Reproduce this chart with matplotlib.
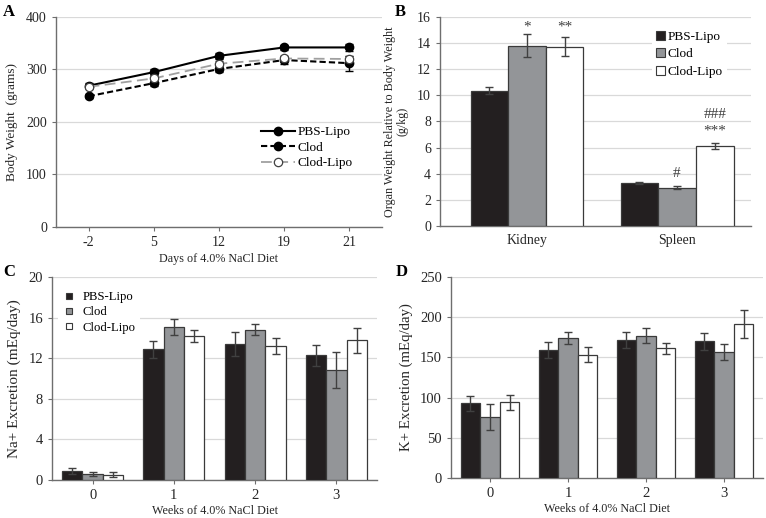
import matplotlib
matplotlib.use("Agg")
import matplotlib.pyplot as plt
import numpy as np
from matplotlib.lines import Line2D
from matplotlib.patches import Patch

plt.rcParams['font.family'] = ['Liberation Serif', 'DejaVu Serif']
plt.rcParams['font.size'] = 8.5

# ---------- data ----------
groups = ['PBS-Lipo', 'Clod', 'Clod-Lipo']

days = ['-2', '5', '12', '19', '21']
bw_pbs = [269, 295, 326, 342, 342]
bw_pbs_err = [5, 5, 6, 5, 6]
bw_clod = [249, 274, 301, 318, 312]
bw_clod_err = [4, 5, 5, 7, 14]
bw_cl = [267, 283, 311, 321, 320]
bw_cl_err = [4, 4, 5, 5, 6]

organs = ['Kidney', 'Spleen']
org_pbs = [10.37, 3.28]
org_pbs_err = [0.25, 0.10]
org_clod = [13.80, 2.94]
org_clod_err = [0.90, 0.10]
org_cl = [13.72, 6.09]
org_cl_err = [0.73, 0.23]

weeks = ['0', '1', '2', '3']
na_pbs = [0.89, 12.86, 13.39, 12.27]
na_pbs_err = [0.26, 0.80, 1.20, 1.05]
na_clod = [0.59, 15.07, 14.80, 10.82]
na_clod_err = [0.15, 0.75, 0.55, 1.80]
na_cl = [0.53, 14.18, 13.19, 13.75]
na_cl_err = [0.25, 0.60, 0.75, 1.20]

k_pbs = [92.9, 159.2, 171.2, 170.0]
k_pbs_err = [9.0, 9.5, 10.0, 10.8]
k_clod = [75.9, 173.7, 177.0, 156.7]
k_clod_err = [16.5, 7.5, 9.0, 10.0]
k_cl = [94.1, 153.4, 161.3, 191.5]
k_cl_err = [9.0, 9.5, 7.0, 17.4]

# ---------- style ----------
C_BLACK = '#231f20'
C_GREY = '#939598'
C_WHITE = '#ffffff'
C_EDGE = '#3a3a3a'
C_GRID = '#d9d9d9'
C_SPINE = '#6e6e6e'
C_TEXT = '#262626'

fig = plt.figure(figsize=(7.66, 5.18), dpi=100)
axA = fig.add_axes([0.0731, 0.5618, 0.4256, 0.4054])
axB = fig.add_axes([0.5744, 0.5637, 0.4060, 0.4035])
axC = fig.add_axes([0.0679, 0.0734, 0.4243, 0.3919])
axD = fig.add_axes([0.5888, 0.0772, 0.4073, 0.3881])


def style(ax, ls=10):
    for s in ['top', 'right']:
        ax.spines[s].set_visible(False)
    for s in ['left', 'bottom']:
        ax.spines[s].set_color(C_SPINE)
        ax.spines[s].set_linewidth(1.0)
    ax.yaxis.grid(True, color=C_GRID, linewidth=0.9)
    ax.set_axisbelow(True)
    ax.tick_params(axis='both', colors=C_SPINE, labelcolor=C_TEXT,
                   labelsize=ls, length=3, width=0.8, direction='out')


# ---------- A ----------
style(axA, 10)
xa = np.arange(len(days))
axA.errorbar(xa, bw_pbs, yerr=bw_pbs_err, color='black', lw=1.5, marker='o',
             ms=6, mfc='black', mec='black', capsize=3, elinewidth=1,
             ecolor='black', zorder=4)
axA.errorbar(xa, bw_clod, yerr=bw_clod_err, color='black', lw=1.5, ls=(0, (3, 1.5)),
             marker='o', ms=6, mfc='black', mec='black', capsize=3, elinewidth=1,
             ecolor='black', zorder=3)
axA.errorbar(xa, bw_cl, yerr=bw_cl_err, color='#a0a0a0', lw=1.3, ls=(0, (6, 3)),
             marker='o', ms=6, mfc='white', mec='#404040', mew=0.9, capsize=3,
             elinewidth=1, ecolor='#404040', zorder=5)
axA.set_xlim(-0.5, len(days) - 0.5)
axA.set_ylim(0, 400)
axA.set_yticks([0, 100, 200, 300, 400])
axA.set_xticks(xa)
axA.set_xticklabels(days)
axA.set_xlabel('Days of 4.0% NaCl Diet', fontsize=8.7, color=C_TEXT, labelpad=3)
axA.set_ylabel('Body Weight  (grams)', fontsize=9.5, color=C_TEXT, labelpad=6)
hA = [Line2D([], [], color='black', lw=1.5, marker='o', ms=6, mfc='black', mec='black'),
      Line2D([], [], color='black', lw=1.5, ls=(0, (3, 1.5)), marker='o', ms=6,
             mfc='black', mec='black'),
      Line2D([], [], color='#a0a0a0', lw=1.3, ls=(0, (6, 3)), marker='o', ms=6,
             mfc='white', mec='#404040', mew=0.9)]
axA.legend(hA, groups, loc='upper left', bbox_to_anchor=(0.6, 0.525), frameon=False,
           fontsize=9.5, handlelength=2.6, labelspacing=0.25, handletextpad=0.2,
           borderpad=0.2)
fig.text(0.004, 0.976, 'A', fontsize=12, fontweight='bold', va='center')

# ---------- B ----------
style(axB, 10)
xb = np.arange(len(organs))
w = 0.251
bar_kw = dict(edgecolor=C_EDGE, linewidth=0.9, zorder=3)
err_kw = dict(ecolor='#404040', elinewidth=1, capsize=3, capthick=1)
axB.bar(xb - w, org_pbs, w, yerr=org_pbs_err, color=C_BLACK, error_kw=err_kw, **bar_kw)
axB.bar(xb, org_clod, w, yerr=org_clod_err, color=C_GREY, error_kw=err_kw, **bar_kw)
axB.bar(xb + w, org_cl, w, yerr=org_cl_err, color=C_WHITE, error_kw=err_kw, **bar_kw)
axB.set_xlim(-0.58, 1.493)
axB.set_ylim(0, 16)
axB.set_yticks(range(0, 17, 2))
axB.set_xticks(xb)
axB.set_xticklabels(organs)
axB.tick_params(axis='x', length=0, pad=6)
axB.set_ylabel('Organ Weight Relative to Body Weight\n(g/kg)', fontsize=8.7,
               color=C_TEXT, labelpad=6, linespacing=1.1)
ann_kw = dict(ha='center', va='center', fontsize=11, color='#404040')
axB.text(0, 15.2, '*', **ann_kw)
axB.text(w, 15.2, '**', **ann_kw)
axB.text(1, 4.0, '#', **ann_kw)
axB.text(1 + w, 8.5, '###', **ann_kw)
axB.text(1 + w, 7.3, '***', **ann_kw)
hB = [Patch(facecolor=c, edgecolor=C_EDGE, linewidth=0.8) for c in (C_BLACK, C_GREY, C_WHITE)]
legB = axB.legend(hB, groups, loc='upper left', bbox_to_anchor=(0.66, 0.985),
                  frameon=True, fontsize=9.5, handlelength=0.7, handleheight=0.7,
                  handletextpad=0.2, labelspacing=0.4, borderpad=0.3)
legB.get_frame().set_edgecolor('none')
legB.get_frame().set_facecolor('white')
legB.get_frame().set_alpha(1)
fig.text(0.516, 0.976, 'B', fontsize=12, fontweight='bold', va='center')

# ---------- C ----------
style(axC, 10.5)
xc = np.arange(len(weeks))
axC.bar(xc - w, na_pbs, w, yerr=na_pbs_err, color=C_BLACK, error_kw=err_kw, **bar_kw)
axC.bar(xc, na_clod, w, yerr=na_clod_err, color=C_GREY, error_kw=err_kw, **bar_kw)
axC.bar(xc + w, na_cl, w, yerr=na_cl_err, color=C_WHITE, error_kw=err_kw, **bar_kw)
axC.set_xlim(-0.5, len(weeks) - 0.5)
axC.set_ylim(0, 20)
axC.set_yticks([0, 4, 8, 12, 16, 20])
axC.set_xticks(xc)
axC.set_xticklabels(weeks)
axC.set_xlabel('Weeks of 4.0% NaCl Diet', fontsize=8.7, color=C_TEXT, labelpad=2)
axC.set_ylabel('Na+ Excretion (mEq/day)', fontsize=11, color=C_TEXT, labelpad=5)
hC = [Line2D([], [], ls='none', marker='s', ms=5, mfc=c, mec=C_EDGE, mew=0.8)
      for c in (C_BLACK, C_GREY, C_WHITE)]
legC = axC.legend(hC, groups, loc='upper left', bbox_to_anchor=(0.0, 0.98),
                  frameon=True, fontsize=9.2, handlelength=1.0, handletextpad=0.6,
                  labelspacing=0.25, borderpad=0.3)
legC.get_frame().set_edgecolor('none')
legC.get_frame().set_facecolor('white')
legC.get_frame().set_alpha(1)
fig.text(0.004, 0.475, 'C', fontsize=12, fontweight='bold', va='center')

# ---------- D ----------
style(axD, 10.5)
axD.bar(xc - w, k_pbs, w, yerr=k_pbs_err, color=C_BLACK, error_kw=err_kw, **bar_kw)
axD.bar(xc, k_clod, w, yerr=k_clod_err, color=C_GREY, error_kw=err_kw, **bar_kw)
axD.bar(xc + w, k_cl, w, yerr=k_cl_err, color=C_WHITE, error_kw=err_kw, **bar_kw)
axD.set_xlim(-0.5, len(weeks) - 0.5)
axD.set_ylim(0, 250)
axD.set_yticks([0, 50, 100, 150, 200, 250])
axD.set_xticks(xc)
axD.set_xticklabels(weeks)
axD.set_xlabel('Weeks of 4.0% NaCl Diet', fontsize=8.7, color=C_TEXT, labelpad=2)
axD.set_ylabel('K+ Excretion (mEq/day)', fontsize=10.7, color=C_TEXT, labelpad=5)
fig.text(0.517, 0.475, 'D', fontsize=12, fontweight='bold', va='center')

fig.savefig('out.png', dpi=100)
